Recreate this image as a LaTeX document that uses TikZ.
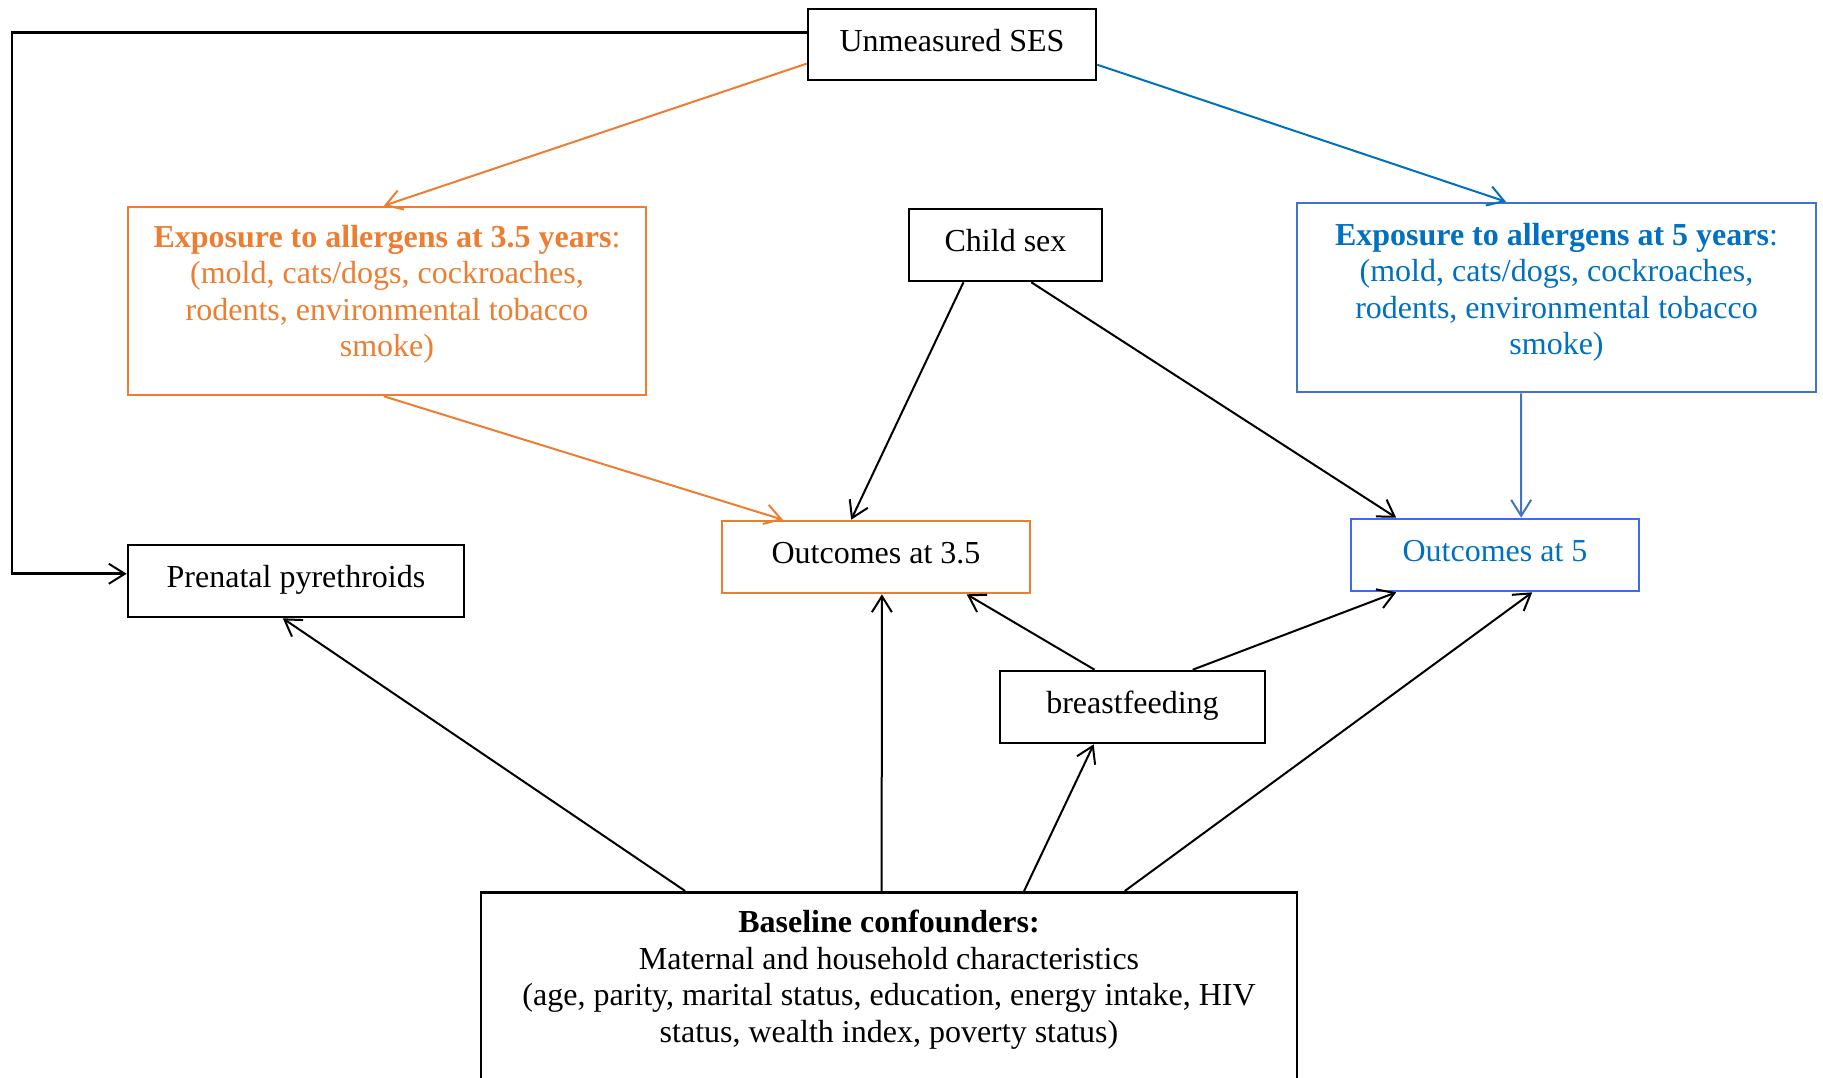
\documentclass[tikz,border=0pt]{standalone}
\usepackage{fontspec}
\setmainfont{Liberation Serif}
\usetikzlibrary{arrows.meta,calc}
\definecolor{orng}{HTML}{ED7D31}
\definecolor{blutxt}{HTML}{0070C0}
\definecolor{bluebox}{HTML}{4472C4}
\definecolor{blueout}{HTML}{3A6BF0}
\begin{document}
\begin{tikzpicture}[x=0.5pt,y=-0.5pt,
  box/.style={draw, line width=1.3pt, inner sep=0pt, align=center,
    font=\fontsize{16}{18.25}\selectfont},
  onebox/.style={box, text height=11pt, text depth=4.5pt},
  conn/.style={line width=1pt, -{Straight Barb[length=8pt,width=10pt,line width=1pt]}},
]
\useasboundingbox (0,0) rectangle (1823,1077);

% boxes
\node[onebox, minimum width=144pt, minimum height=35.5pt] (ses) at (952,44.5) {Unmeasured SES};
\node[box, draw=orng, text=orng, minimum width=259pt, minimum height=94pt] (exA) at (387,301)
  {\textbf{Exposure to allergens at 3.5 years}:\\(mold, cats/dogs, cockroaches,\\rodents, environmental tobacco\\smoke)\rule[-10pt]{0pt}{0pt}};
\node[onebox, minimum width=96.5pt, minimum height=36pt] (sex) at (1005.5,245) {Child sex};
\node[box, draw=bluebox, text=blutxt, minimum width=259.5pt, minimum height=94.5pt] (exB) at (1556.5,297.5)
  {\textbf{Exposure to allergens at 5 years}:\\(mold, cats/dogs, cockroaches,\\rodents, environmental tobacco\\smoke)\rule[-8.5pt]{0pt}{0pt}};
\node[onebox, minimum width=168pt, minimum height=36pt] (pre) at (296,581) {Prenatal pyrethroids};
\node[onebox, draw=orng, minimum width=154pt, minimum height=36pt] (outA) at (876,557) {Outcomes at 3.5};
\node[onebox, draw=blueout, text=blutxt, minimum width=144pt, minimum height=36pt] (outB) at (1495,555) {Outcomes at 5};
\node[onebox, minimum width=132.5pt, minimum height=36pt] (bf) at (1132.5,707) {breastfeeding};
\node[box, anchor=north, minimum width=408pt, minimum height=110pt] (base) at (889,891)
  {\textbf{Baseline confounders:}\\Maternal and household characteristics\\(age, parity, marital status, education, energy intake, HIV\\status, wealth index, poverty status)\rule[-26pt]{0pt}{0pt}};

\coordinate (elb) at (12,300);

% connectors
\draw[conn, line width=1.3pt] ($(ses.north west)!0.338!(ses.south west)$) -| (elb) |- ($(pre.north west)!0.403!(pre.south west)$);
\draw[conn, draw=orng] ($(ses.north west)!0.76!(ses.south west)$) -- ($(exA.north west)!0.494!(exA.north east)$);
\draw[conn, draw=blutxt] ($(ses.north east)!0.775!(ses.south east)$) -- ($(exB.north west)!0.403!(exB.north east)$);
\draw[conn, draw=orng] ($(exA.south west)!0.494!(exA.south east)$) -- ($(outA.north west)!0.20!(outA.north east)$);
\draw[conn] ($(sex.south west)!0.285!(sex.south east)$) -- ($(outA.north west)!0.42!(outA.north east)$);
\draw[conn] ($(sex.south west)!0.632!(sex.south east)$) -- ($(outB.north west)!0.16!(outB.north east)$);
\draw[conn, draw=bluebox] ($(exB.south west)!0.432!(exB.south east)$) -- ($(outB.north west)!0.59!(outB.north east)$);
\draw[conn] ($(base.north west)!0.251!(base.north east)$) -- ($(pre.south west)!0.461!(pre.south east)$);
\draw[conn] ($(base.north west)!0.491!(base.north east)$) -- ($(outA.south west)!0.519!(outA.south east)$);
\draw[conn] ($(base.north west)!0.665!(base.north east)$) -- ($(bf.south west)!0.355!(bf.south east)$);
\draw[conn] ($(base.north west)!0.788!(base.north east)$) -- ($(outB.south west)!0.628!(outB.south east)$);
\draw[conn] ($(bf.north west)!0.358!(bf.north east)$) -- ($(outA.south west)!0.792!(outA.south east)$);
\draw[conn] ($(bf.north west)!0.725!(bf.north east)$) -- ($(outB.south west)!0.16!(outB.south east)$);
\end{tikzpicture}
\end{document}
